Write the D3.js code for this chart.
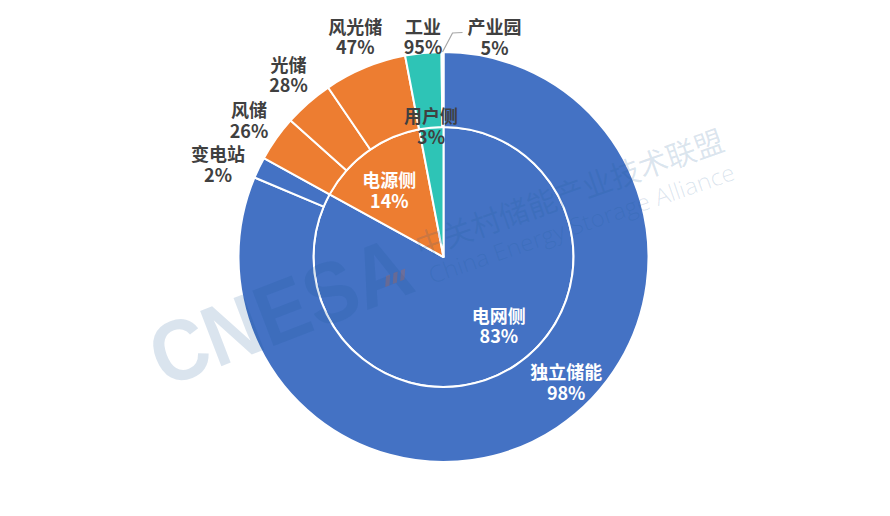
<!DOCTYPE html>
<html><head><meta charset="utf-8">
<script src="https://cdn.jsdelivr.net/npm/d3@7"></script>
<style>body{margin:0;background:#fff}svg{display:block}</style>
</head><body>
<svg id="c" width="890" height="516"></svg>
<script>
// ---- data ----
const parents = ["电网侧", "电源侧", "用户侧"];
const parentValues = [83, 14, 3];
const children = ["独立储能", "变电站", "风储", "光储", "风光储", "工业", "产业园"];
const childParents = ["电网侧", "电网侧", "电源侧", "电源侧", "电源侧", "用户侧", "用户侧"];
const childShares = [98, 2, 26, 28, 47, 95, 5];
const parentColors = ["#4472C4", "#ED7D31", "#2EC4B6"];

// ---- layout ----
const cx = 443.5, cy = 257, R = 205, r0 = 130;
const FONT = '"Microsoft YaHei","Noto Sans CJK SC",sans-serif';
const dark = "#404040";
const lineGap = 20.5;
// label nudges (layout only)
const nudge = {"电网侧": [11, -7], "电源侧": [-3, 3], "独立储能": [30, -15],
  "工业": [3, 16], "风光储": [6, -1], "光储": [2, -4], "变电站": [-4, 10]};

const svg = d3.select("#c");
const g = svg.append("g").attr("transform", `translate(${cx},${cy})`);
const color = d3.scaleOrdinal().domain(parents).range(parentColors);

const pie = d3.pie().sort(null).value(d => d.value);
const innerData = pie(parents.map((p, i) => ({name: p, parent: p, value: parentValues[i], label: parentValues[i] + "%"})));

const shareSum = d3.rollup(children.map((c, i) => i), v => d3.sum(v, i => childShares[i]), i => childParents[i]);
const outerData = pie(children.map((c, i) => {
  const p = childParents[i];
  const pv = parentValues[parents.indexOf(p)];
  return {name: c, parent: p, value: pv * childShares[i] / shareSum.get(p), label: childShares[i] + "%"};
}));

const innerArc = d3.arc().innerRadius(0).outerRadius(r0);
const outerArc = d3.arc().innerRadius(r0).outerRadius(R);

g.selectAll("path.in").data(innerData).join("path").attr("class", "in")
  .attr("d", innerArc).attr("fill", d => color(d.data.parent))
  .attr("stroke", "#fff").attr("stroke-width", 2).attr("stroke-linejoin", "round");
g.selectAll("path.out").data(outerData).join("path").attr("class", "out")
  .attr("d", outerArc).attr("fill", d => color(d.data.parent))
  .attr("stroke", "#fff").attr("stroke-width", 2).attr("stroke-linejoin", "round");

// ---- watermark ----
const wm = svg.append("g").attr("fill", "#1a5a96").attr("fill-opacity", 0.16);
wm.append("text").attr("transform", "translate(164,388) rotate(-21)")
  .attr("font-family", '"Liberation Sans",Arial,sans-serif').attr("font-weight", "bold")
  .attr("font-size", 86).attr("textLength", 272).attr("lengthAdjust", "spacingAndGlyphs").text("CNESA");
[0, 1, 2].forEach(k => {
  wm.append("rect").attr("transform", `translate(${386 + k * 7.5},${276 - k * 2.9}) rotate(-21) skewX(-25)`)
    .attr("width", 4.5).attr("height", 10).attr("fill", "#e8641e").attr("fill-opacity", 0.25);
});
wm.append("text").attr("transform", "translate(420,258) rotate(-19.5)")
  .attr("font-family", FONT).attr("font-size", 30).attr("textLength", 325)
  .attr("lengthAdjust", "spacingAndGlyphs").text("中关村储能产业技术联盟");
wm.append("text").attr("transform", "translate(432,284) rotate(-19)")
  .attr("font-family", '"Open Sans",sans-serif').attr("font-weight", 300).attr("font-size", 23)
  .attr("textLength", 322).attr("lengthAdjust", "spacingAndGlyphs").text("China Energy Storage Alliance");

// ---- labels ----
const lbl = g.append("g").attr("font-family", FONT).attr("font-weight", "bold").attr("font-size", 18)
  .attr("text-anchor", "middle");

function drawLabel(x, y, d, fill) {
  const n = nudge[d.data.name] || [0, 0];
  const t = lbl.append("text").attr("fill", fill).attr("transform", `translate(${x + n[0]},${y + n[1]})`);
  t.append("tspan").attr("x", 0).attr("y", -lineGap / 2).attr("dominant-baseline", "central").text(d.data.name);
  t.append("tspan").attr("x", 0).attr("y", lineGap / 2).attr("dominant-baseline", "central").text(d.data.label);
  return t;
}
const mid = d => (d.startAngle + d.endAngle) / 2;
const polar = (a, r) => [Math.sin(a) * r, -Math.cos(a) * r];

innerData.forEach(d => {
  const a = mid(d);
  if (d.data.name === "用户侧") {
    const [x, y] = polar(a, r0 + 2);
    drawLabel(x, y, d, dark);
  } else {
    const [x, y] = polar(a, r0 * 0.67);
    drawLabel(x, y, d, "#fff");
  }
});

outerData.forEach(d => {
  const a = mid(d);
  if (d.data.name === "独立储能") {
    const [x, y] = polar(a, (r0 + R) / 2);
    drawLabel(x, y, d, "#fff");
  } else if (d.data.name === "产业园") {
    const [sx, sy] = polar(a, R);
    const ex = sx + 10, ey = sy - 19;
    g.append("path").attr("d", `M${sx},${sy}L${ex},${ey}L${ex + 10},${ey - 0.5}`)
      .attr("fill", "none").attr("stroke", "#a6a6a6").attr("stroke-width", 1.2);
    const t = drawLabel(0, 0, d, dark);
    const w = t.node().getBBox().width;
    t.attr("transform", `translate(${ex + 15 + w / 2},${ey + 3.5})`);
  } else {
    const [ax, ay] = polar(a, 219);
    const t = drawLabel(0, 0, d, dark);
    const w = t.node().getBBox().width;
    const n = nudge[d.data.name] || [0, 0];
    const x = ax + Math.sin(a) * w / 2 + n[0], y = ay - Math.cos(a) * 19 + n[1];
    t.attr("transform", `translate(${x},${y})`);
  }
});
</script>
</body></html>
